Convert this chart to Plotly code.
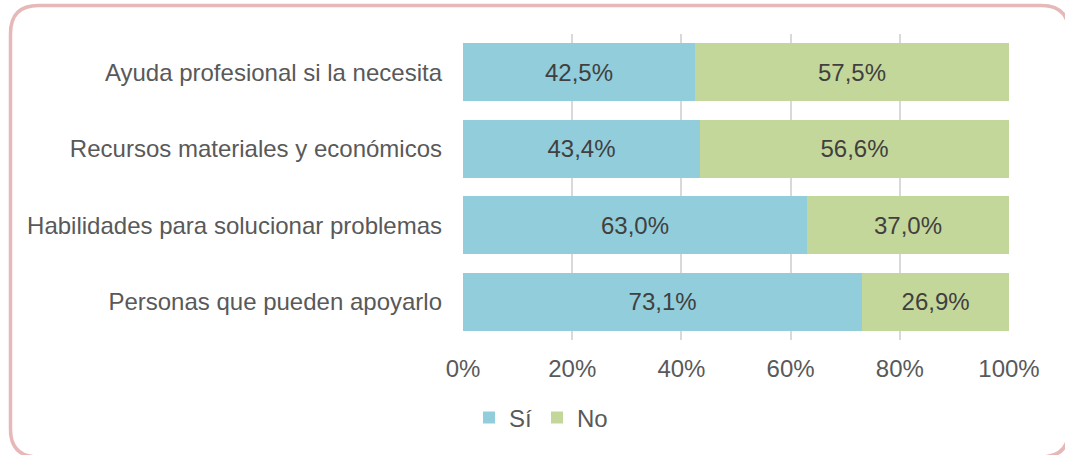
import plotly.graph_objects as go

# Datos (porcentajes)
CATEGORIES = [
    "Ayuda profesional si la necesita",
    "Recursos materiales y económicos",
    "Habilidades para solucionar problemas",
    "Personas que pueden apoyarlo",
]
SI_VALUES = [42.5, 43.4, 63.0, 73.1]
NO_VALUES = [57.5, 56.6, 37.0, 26.9]
X_TICKS = [0, 20, 40, 60, 80, 100]

COLOR_SI = "#92CDDC"
COLOR_NO = "#C4D79B"
TEXT_COLOR = "#595959"
FONT = "Liberation Sans, Arial, sans-serif"

W, H = 1065, 455
M_L, M_R, M_T, M_B = 463, 56, 34, 115


def _label(v):
    return f"{v:.1f}".replace(".", ",") + "%"


def _px_x(px):
    return (px - M_L) / (W - M_L - M_R)


def _px_y(py):
    return (H - M_B - py) / (H - M_T - M_B)


def _rounded_box(x0, y0, x1, y1, r):
    """Path SVG en coordenadas 'paper' a partir de píxeles."""
    X = _px_x
    Y = _px_y
    return (
        f"M {X(x0 + r)},{Y(y0)} L {X(x1 - r)},{Y(y0)} "
        f"Q {X(x1)},{Y(y0)} {X(x1)},{Y(y0 + r)} "
        f"L {X(x1)},{Y(y1 - r)} Q {X(x1)},{Y(y1)} {X(x1 - r)},{Y(y1)} "
        f"L {X(x0 + r)},{Y(y1)} Q {X(x0)},{Y(y1)} {X(x0)},{Y(y1 - r)} "
        f"L {X(x0)},{Y(y0 + r)} Q {X(x0)},{Y(y0)} {X(x0 + r)},{Y(y0)} Z"
    )


fig = go.Figure()
fig.add_trace(go.Bar(
    name="Sí", y=CATEGORIES, x=SI_VALUES, orientation="h",
    marker_color=COLOR_SI, text=[_label(v) for v in SI_VALUES],
))
fig.add_trace(go.Bar(
    name="No", y=CATEGORIES, x=NO_VALUES, orientation="h",
    marker_color=COLOR_NO, text=[_label(v) for v in NO_VALUES],
))
fig.update_traces(
    textposition="inside", insidetextanchor="middle",
    textfont=dict(size=24, color="#404040", family=FONT),
    constraintext="none", marker_line_width=0, hoverinfo="skip",
)

fig.update_layout(
    width=W, height=H,
    margin=dict(l=M_L, r=M_R, t=M_T, b=M_B),
    barmode="stack", bargap=0.24,
    paper_bgcolor="white", plot_bgcolor="white",
    font=dict(family=FONT, size=24, color=TEXT_COLOR),
    xaxis=dict(
        range=[0, 100], tickvals=X_TICKS,
        ticktext=[f"{v}%" for v in X_TICKS],
        showgrid=True, gridcolor="#D9D9D9", gridwidth=2,
        zeroline=False, showline=False, ticks="", ticklabelstandoff=12,
        automargin=False,
    ),
    yaxis=dict(
        categoryorder="array", categoryarray=CATEGORIES[::-1],
        showgrid=False, showline=False, ticks="", ticklabelstandoff=20,
        automargin=False,
    ),
    legend=dict(
        orientation="h", x=_px_x(541), xanchor="center",
        y=_px_y(418), yanchor="middle", traceorder="normal",
        font=dict(size=24, color=TEXT_COLOR),
        itemwidth=30, bgcolor="rgba(0,0,0,0)",
    ),
    shapes=[dict(
        type="path", xref="paper", yref="paper",
        path=_rounded_box(10.5, 5.5, 1069, 457, 28),
        line=dict(color="#E6B9B8", width=3.5), fillcolor="rgba(0,0,0,0)",
        layer="below",
    )],
)

fig.write_html("out.html", config={"displayModeBar": False},
               post_script="document.body.style.margin='0px';")
